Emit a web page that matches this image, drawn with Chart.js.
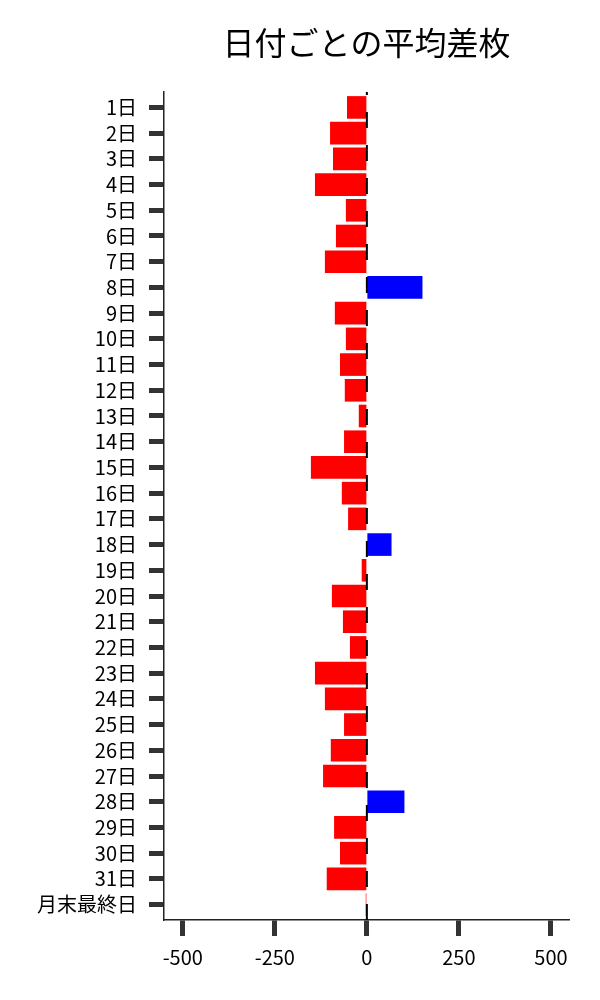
<!DOCTYPE html>
<html>
<head>
<meta charset="utf-8">
<script src="https://cdn.jsdelivr.net/npm/chart.js@4.4.1/dist/chart.umd.min.js"></script>
<style>
html,body{margin:0;padding:0;background:#fff;}
#wrap{width:600px;height:1000px;}
</style>
</head>
<body>
<div id="wrap"><canvas id="c" width="600" height="1000"></canvas></div>
<script>
const titleText = "日付ごとの平均差枚";
const categories = ["1日","2日","3日","4日","5日","6日","7日","8日","9日","10日","11日","12日","13日","14日","15日","16日","17日","18日","19日","20日","21日","22日","23日","24日","25日","26日","27日","28日","29日","30日","31日","月末最終日"];
const avgDiff = [-54,-100,-92,-141,-57,-84,-114,151,-87,-57,-73,-60,-22,-62,-152,-68,-51,67,-14,-95,-65,-46,-141,-114,-62,-98,-119,102,-89,-73,-109,-3];
const xTickValues = [-500,-250,0,250,500];
const xMin = -551, xMax = 549;
const posColor = "#0000ff", negColor = "#ff0000";

const FONT = "'Noto Sans CJK JP','Noto Sans',sans-serif";

const extras = {
  id: 'extras',
  afterDatasetsDraw(chart) {
    const ctx = chart.ctx, ca = chart.chartArea;
    const x0 = chart.scales.x.getPixelForValue(0);
    ctx.save();
    ctx.strokeStyle = '#000';
    ctx.lineWidth = 2;
    ctx.setLineDash([16,17]);
    ctx.beginPath();
    ctx.moveTo(x0, ca.bottom);
    ctx.lineTo(x0, ca.top);
    ctx.stroke();
    ctx.restore();
  },
  afterDraw(chart) {
    const ctx = chart.ctx, ca = chart.chartArea;
    ctx.save();
    ctx.fillStyle = '#000';
    ctx.font = "32px " + FONT;
    ctx.textAlign = 'center';
    ctx.textBaseline = 'middle';
    ctx.fillText(titleText, (ca.left + ca.right) / 2, 43);
    ctx.restore();
  }
};

new Chart(document.getElementById('c'), {
  type: 'bar',
  data: {
    labels: categories,
    datasets: [{
      data: avgDiff,
      backgroundColor: avgDiff.map(v => v >= 0 ? posColor : negColor),
      borderWidth: 0,
      barPercentage: 0.88,
      categoryPercentage: 1.0
    }]
  },
  options: {
    indexAxis: 'y',
    responsive: false,
    animation: false,
    devicePixelRatio: 1,
    layout: { padding: { top: 92, right: 31, left: 0, bottom: 0 } },
    plugins: { legend: { display: false }, tooltip: { enabled: false }, title: { display: false } },
    scales: {
      y: {
        type: 'category',
        offset: true,
        grid: { display: true, drawOnChartArea: false, offset: false, tickLength: 15, tickWidth: 5, tickColor: '#333' },
        border: { display: true, color: '#222', width: 1.5 },
        ticks: { color: '#000', font: { family: FONT, size: 20 }, padding: 12, autoSkip: false },
        afterBuildTicks(scale) {
          scale._startValue = -0.6;
          scale._valueRange = categories.length + 0.2;
        },
        afterFit(scale) { scale.width = 164; }
      },
      x: {
        type: 'linear',
        min: xMin,
        max: xMax,
        grid: { display: true, drawOnChartArea: false, tickLength: 16, tickWidth: 5, tickColor: '#333' },
        border: { display: true, color: '#222', width: 1.5 },
        ticks: { color: '#000', font: { family: FONT, size: 20 }, padding: 9, maxRotation: 0 },
        afterBuildTicks(scale) { scale.ticks = xTickValues.map(v => ({ value: v })); },
        afterFit(scale) { scale.height = 80; }
      }
    }
  },
  plugins: [extras]
});
</script>
</body>
</html>
